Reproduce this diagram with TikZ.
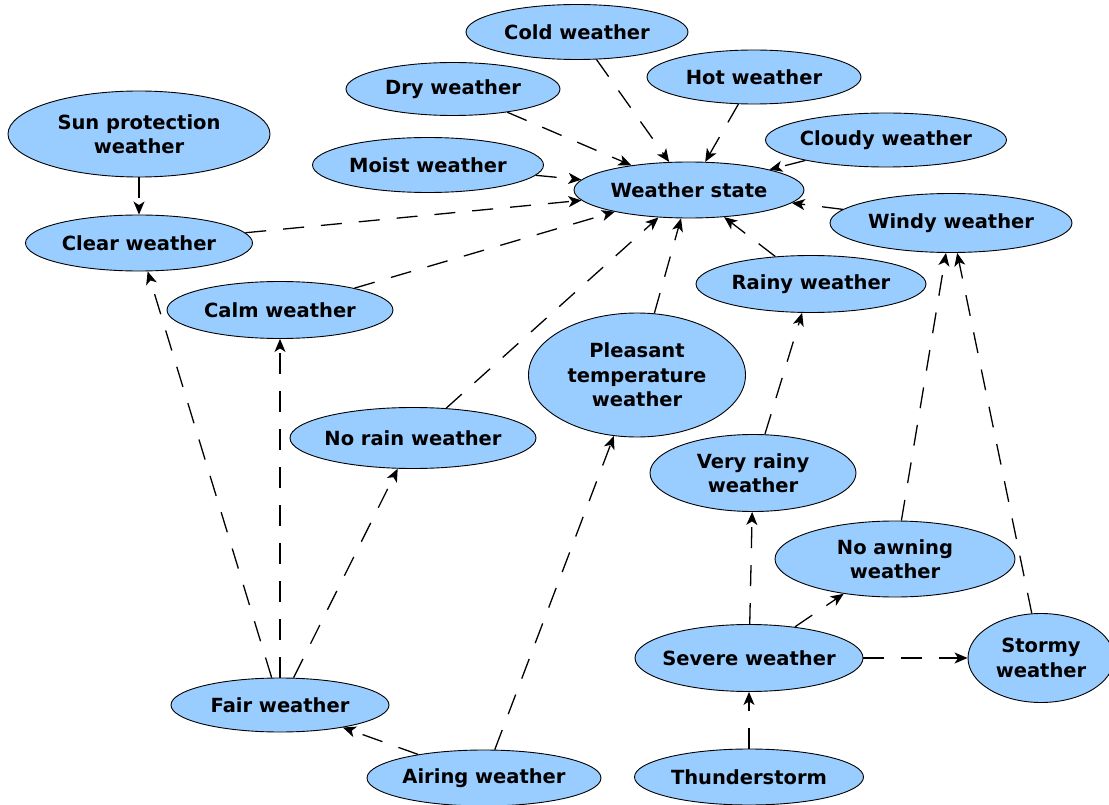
\documentclass[tikz,border=0pt]{standalone}
\usepackage{fontspec}
\setmainfont{DejaVu Sans}
\usetikzlibrary{shapes.geometric,arrows.meta}
\definecolor{statefill}{HTML}{99CCFF}
\tikzset{
  state/.style={ellipse, draw=black, line width=0.9pt, fill=statefill,
    inner xsep=-30pt, inner ysep=0pt, align=center,
    font=\fontsize{19.5}{24.5}\selectfont\bfseries},
  link/.style={line width=1.3pt, dash pattern=on 21pt off 17pt,
    -{Stealth[length=13pt,width=11pt,inset=3.5pt]}},
}
\begin{document}
\begin{tikzpicture}[x=1pt,y=-1pt]
\useasboundingbox (0,0) rectangle (1109,805);

% weather states
\node[state, minimum width=222pt, minimum height=55pt] (cold) at (577,32) {Cold weather};
\node[state, minimum width=214pt, minimum height=54pt] (hot) at (754,77) {Hot weather};
\node[state, minimum width=214pt, minimum height=53pt] (dry) at (453,89) {Dry weather};
\node[state, minimum width=262pt, minimum height=86pt] (sun) at (139,134) {Sun protection\\weather};
\node[state, minimum width=241pt, minimum height=54pt] (cloudy) at (886,140) {Cloudy weather};
\node[state, minimum width=231pt, minimum height=55pt] (moist) at (428,165) {Moist weather};
\node[state, minimum width=230pt, minimum height=56pt] (ws) at (689,190) {Weather state};
\node[state, minimum width=242pt, minimum height=59pt] (windy) at (951,223) {Windy weather};
\node[state, minimum width=227pt, minimum height=56pt] (clear) at (139,243) {Clear weather};
\node[state, minimum width=230pt, minimum height=57pt] (rainy) at (811,284) {Rainy weather};
\node[state, minimum width=226pt, minimum height=57pt] (calm) at (280,310) {Calm weather};
\node[state, minimum width=217pt, minimum height=124pt] (pleasant) at (637,375) {Pleasant\\temperature\\weather};
\node[state, minimum width=246pt, minimum height=61pt] (norain) at (413,438) {No rain weather};
\node[state, minimum width=206pt, minimum height=77pt] (veryrainy) at (753,473) {Very rainy\\weather};
\node[state, minimum width=240pt, minimum height=76pt] (noawning) at (895,559) {No awning\\weather};
\node[state, minimum width=228pt, minimum height=67pt] (severe) at (749,658) {Severe weather};
\node[state, minimum width=146pt, minimum height=89pt] (stormy) at (1041,658) {Stormy\\weather};
\node[state, minimum width=218pt, minimum height=54pt] (fair) at (280,705) {Fair weather};
\node[state, minimum width=234pt, minimum height=56pt] (airing) at (484,778) {Airing weather};
\node[state, minimum width=229pt, minimum height=56pt] (thunder) at (749,777) {Thunderstorm};

% influences on the overall weather state
\foreach \src in {cold,hot,dry,cloudy,moist,windy,clear,rainy,calm,norain,pleasant}
  \draw[link] (\src) -- (ws);

% remaining dependencies
\draw[link] (sun) -- (clear);
\draw[link] (fair) -- (clear);
\draw[link] (fair) -- (calm);
\draw[link] (fair) -- (norain);
\draw[link] (airing) -- (fair);
\draw[link] (airing) -- (pleasant);
\draw[link] (veryrainy) -- (rainy);
\draw[link] (severe) -- (veryrainy);
\draw[link] (severe) -- (noawning);
\draw[link] (severe) -- (stormy);
\draw[link] (thunder) -- (severe);
\draw[link] (noawning) -- (windy);
\draw[link] (stormy) -- (windy);
\end{tikzpicture}
\end{document}
